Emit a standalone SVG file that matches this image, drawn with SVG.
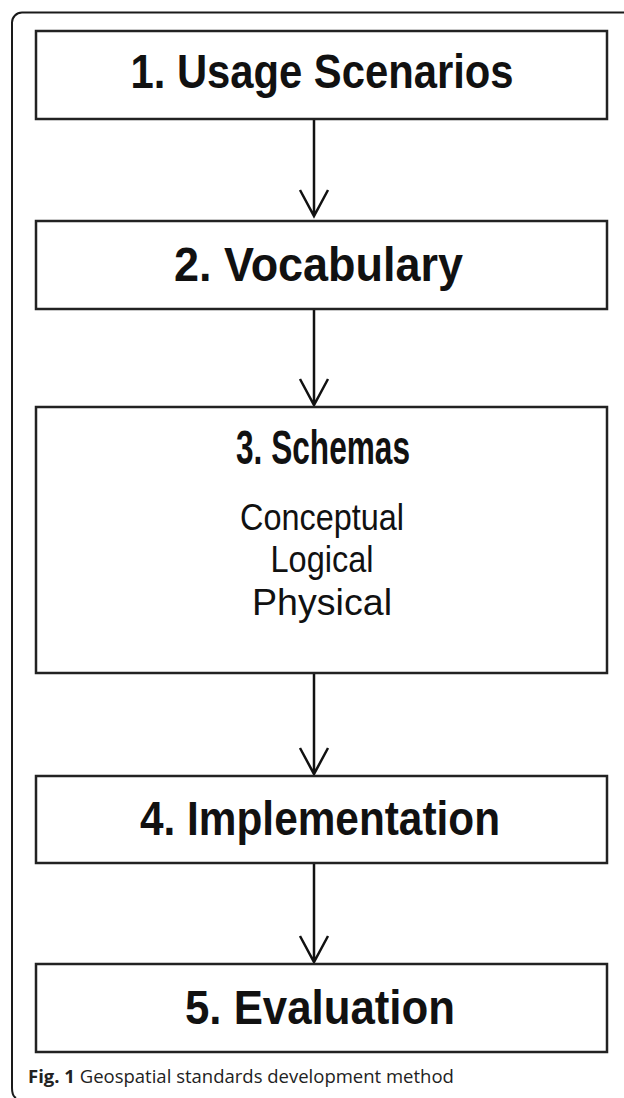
<svg xmlns="http://www.w3.org/2000/svg" width="624" height="1098" viewBox="0 0 624 1098">
<style>
.box{fill:#fff;stroke:#222;stroke-width:2.5}
.frame{fill:none;stroke:#1a1a1a;stroke-width:2}
.t{font-family:"Liberation Sans",Arial,sans-serif;font-weight:bold;font-size:48px;fill:#111;text-anchor:middle}
.r{font-family:"Liberation Sans",Arial,sans-serif;font-size:37px;fill:#111;text-anchor:middle}
.arr{stroke:#111;stroke-width:2.5;fill:none}
.cap{font-family:"Open Sans","Noto Sans",sans-serif;font-size:18.5px;fill:#222}
</style>
<rect width="624" height="1098" fill="#fff"/>
<path class="frame" d="M624,12.5 H22 A10,10 0 0 0 12,22.5 V1088 Q12,1096 16,1098"/>
<g id="connectors">
<path class="arr" d="M314,119 V216 M300,190 L314,216 L328,190"/>
<path class="arr" d="M314,309 V405 M300,379 L314,405 L328,379"/>
<path class="arr" d="M314,673 V774 M300,748 L314,774 L328,748"/>
<path class="arr" d="M314,863 V962 M300,936 L314,962 L328,936"/>
</g>
<g id="node1">
<rect class="box" x="36" y="31" width="571" height="88"/>
<text class="t" x="322" y="88" textLength="383" lengthAdjust="spacingAndGlyphs">1. Usage Scenarios</text>
</g>
<g id="node2">
<rect class="box" x="36" y="221" width="571" height="88"/>
<text class="t" x="318.5" y="281" textLength="289" lengthAdjust="spacingAndGlyphs">2. Vocabulary</text>
</g>
<g id="node3">
<rect class="box" x="36" y="407" width="571" height="266"/>
<text class="t" x="323" y="464" font-size="37" textLength="174" lengthAdjust="spacingAndGlyphs">3. Schemas</text>
<text class="r" x="322" y="530" textLength="164" lengthAdjust="spacingAndGlyphs">Conceptual</text>
<text class="r" x="322" y="572" textLength="103" lengthAdjust="spacingAndGlyphs">Logical</text>
<text class="r" x="322" y="615" textLength="140" lengthAdjust="spacingAndGlyphs">Physical</text>
</g>
<g id="node4">
<rect class="box" x="36" y="776" width="571" height="87"/>
<text class="t" x="320" y="835" textLength="360" lengthAdjust="spacingAndGlyphs">4. Implementation</text>
</g>
<g id="node5">
<rect class="box" x="36" y="964" width="571" height="88"/>
<text class="t" x="320" y="1024" textLength="270" lengthAdjust="spacingAndGlyphs">5. Evaluation</text>
</g>
<text class="cap" x="28" y="1083"><tspan font-weight="bold">Fig. 1</tspan> Geospatial standards development method</text>
</svg>
